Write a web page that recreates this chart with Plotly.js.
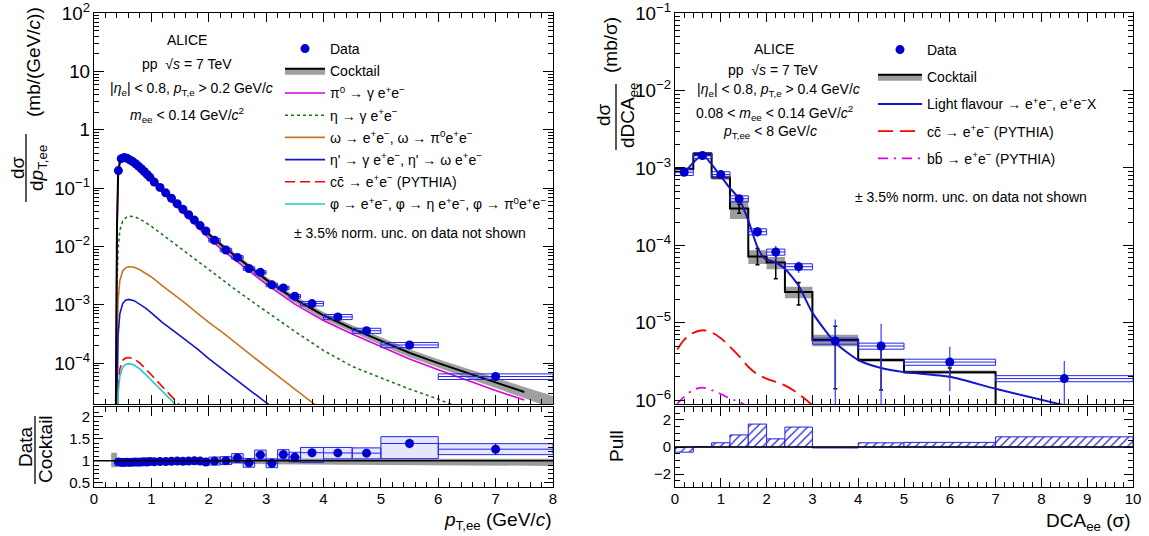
<!DOCTYPE html>
<html>
<head>
<meta charset="utf-8">
<title>ALICE pp 7 TeV dielectrons</title>
<script src="https://cdn.plot.ly/plotly-3.0.1.min.js"></script>
<style>
  html, body { margin: 0; padding: 0; background: #ffffff; }
  #chart { width: 1149px; height: 536px; }
</style>
</head>
<body>
<div id="chart"></div>
<script>
"use strict";

// ---------- left: pT,ee spectrum, m_ee < 0.14 GeV/c^2 ----------
var ptCenters = [0.425, 0.475, 0.525, 0.575, 0.625, 0.675, 0.725, 0.775, 0.825, 0.875, 0.925, 0.975,
    1.05, 1.15, 1.25, 1.35, 1.45, 1.55, 1.65, 1.75, 1.85, 1.95,
    2.1, 2.3, 2.5, 2.7, 2.9, 3.1, 3.3, 3.5, 3.8, 4.25, 4.75, 5.5, 7.0];
var ptHalfWidths = [0.025, 0.025, 0.025, 0.025, 0.025, 0.025, 0.025, 0.025, 0.025, 0.025, 0.025, 0.025,
    0.05, 0.05, 0.05, 0.05, 0.05, 0.05, 0.05, 0.05, 0.05, 0.05,
    0.1, 0.1, 0.1, 0.1, 0.1, 0.1, 0.1, 0.1, 0.2, 0.25, 0.25, 0.5, 1.0];
var ptDataYield = [0.20, 0.32, 0.335, 0.325, 0.305, 0.285, 0.262, 0.238, 0.215, 0.193, 0.172, 0.153,
    0.127, 0.103, 0.083, 0.067, 0.054, 0.0435, 0.035, 0.0283, 0.0228, 0.0184,
    0.0128, 0.0087, 0.0065, 0.0042, 0.0036, 0.0022, 0.00195, 0.0014, 0.00105, 0.00062, 0.00036, 0.000205, 0.000059];
var ptDataStatRel = [0.01, 0.01, 0.01, 0.01, 0.01, 0.01, 0.01, 0.01, 0.01, 0.01, 0.01, 0.01,
    0.012, 0.012, 0.012, 0.012, 0.012, 0.012, 0.012, 0.012, 0.012, 0.012,
    0.02, 0.02, 0.02, 0.02, 0.02, 0.02, 0.02, 0.02, 0.04, 0.05, 0.06, 0.08, 0.1];
var ptDataSystRel = [0.06, 0.06, 0.06, 0.06, 0.06, 0.06, 0.06, 0.06, 0.06, 0.06, 0.06, 0.06,
    0.06, 0.06, 0.06, 0.06, 0.06, 0.06, 0.06, 0.06, 0.06, 0.06,
    0.07, 0.07, 0.07, 0.07, 0.07, 0.07, 0.07, 0.07, 0.09, 0.1, 0.1, 0.1, 0.11];

// data / cocktail
var ptRatio = [0.97, 0.96, 0.96, 0.965, 0.96, 0.965, 0.97, 0.965, 0.97, 0.975, 0.97, 0.98,
    0.975, 0.98, 0.98, 0.985, 0.99, 0.985, 0.99, 0.995, 0.99, 0.97,
    0.99, 1.0, 1.06, 0.95, 1.13, 0.94, 1.14, 1.08, 1.18, 1.175, 1.17, 1.39, 1.26];
var ptRatioBoxDown = [0.04, 0.04, 0.04, 0.04, 0.04, 0.04, 0.04, 0.04, 0.04, 0.04, 0.04, 0.04,
    0.04, 0.04, 0.04, 0.04, 0.04, 0.04, 0.04, 0.04, 0.04, 0.04,
    0.09, 0.09, 0.1, 0.1, 0.1, 0.1, 0.11, 0.11, 0.22, 0.135, 0.13, 0.345, 0.124];
var ptRatioBoxUp = [0.04, 0.04, 0.04, 0.04, 0.04, 0.04, 0.04, 0.04, 0.04, 0.04, 0.04, 0.04,
    0.04, 0.04, 0.04, 0.04, 0.04, 0.04, 0.04, 0.04, 0.04, 0.04,
    0.09, 0.09, 0.1, 0.1, 0.11, 0.1, 0.11, 0.11, 0.12, 0.125, 0.12, 0.155, 0.126];
var ratioBandPt = [0.3, 0.4, 0.4, 1.0, 2.0, 3.0, 4.0, 5.0, 6.0, 7.0, 8.0];
var ratioBandLo = [0.85, 0.85, 0.92, 0.93, 0.93, 0.92, 0.91, 0.9, 0.89, 0.88, 0.88];
var ratioBandHi = [1.18, 1.18, 1.06, 1.05, 1.05, 1.05, 1.05, 1.04, 1.04, 1.04, 1.04];
var ratioRef = 1;

// cocktail and its sources, sampled in pT,ee
var cktPt = [0.38, 0.40, 0.42, 0.45, 0.50, 0.55, 0.60, 0.70, 0.80, 0.90, 1.00, 1.20, 1.40, 1.60, 1.80,
    2.00, 2.25, 2.50, 2.75, 3.00, 3.50, 4.00, 4.50, 5.00, 5.50, 6.00, 6.50, 7.00, 7.50, 8.00];
var cktYield = [1e-5, 0.02, 0.17, 0.30, 0.345, 0.345, 0.33, 0.285, 0.235, 0.19, 0.150, 0.096, 0.061, 0.039, 0.025,
    0.0162, 0.0100, 0.0064, 0.0041, 0.0027, 0.00125, 0.00066, 0.00039, 0.00024, 0.000150, 0.000100, 0.000068, 0.000047, 0.000032, 0.000022];
var cktUncRel = [0.1, 0.1, 0.1, 0.1, 0.1, 0.1, 0.1, 0.1, 0.1, 0.1, 0.1, 0.1, 0.1, 0.1, 0.1,
    0.1, 0.1, 0.11, 0.11, 0.12, 0.13, 0.14, 0.14, 0.15, 0.16, 0.17, 0.18, 0.2, 0.22, 0.24];
var pi0Yield = [1e-5, 0.018, 0.15, 0.265, 0.305, 0.305, 0.29, 0.25, 0.205, 0.166, 0.131, 0.083, 0.053, 0.0338, 0.0216,
    0.0139, 0.0085, 0.0054, 0.00345, 0.00226, 0.00103, 0.00054, 0.000315, 0.000192, 0.000118, 0.000077, 0.000051, 0.000034, 0.0000233];
var etaYield = [1e-5, 0.002, 0.009, 0.019, 0.027, 0.031, 0.033, 0.0325, 0.0295, 0.0258, 0.0222, 0.0158, 0.0112, 0.0079, 0.0056,
    0.0040, 0.0026, 0.00172, 0.00115, 0.00077, 0.00035, 0.000165, 0.000088, 0.000056, 0.000036, 0.000024, 0.000016];
var omegaYield = [1e-6, 0.0002, 0.0012, 0.0026, 0.0038, 0.0043, 0.0045, 0.0044, 0.0040, 0.0035, 0.0030, 0.0021, 0.0015, 0.00105, 0.00072,
    0.00050, 0.00033, 0.00021, 0.000133, 0.000086, 0.000036, 0.000015];
var etaPrimeYield = [1e-6, 0.00005, 0.0003, 0.0007, 0.00105, 0.0012, 0.00124, 0.00118, 0.00103, 0.00088, 0.00073, 0.00049, 0.00035, 0.00025, 0.000175,
    0.000120, 0.000078, 0.000050, 0.000032, 0.000021, 0.0000095];
var ccbarPtYield = [1e-6, 0.00001, 0.00004, 0.00008, 0.000112, 0.000122, 0.000125, 0.000118, 0.000100, 0.000080, 0.000063, 0.000039, 0.000024, 0.0000148];
var phiYield = [1e-6, 0.000005, 0.00003, 0.00006, 0.000085, 0.000095, 0.000098, 0.000093, 0.000079, 0.000064, 0.000051, 0.000032, 0.0000205, 0.000013];

// ---------- right: DCA_ee distribution ----------
var dcaEdges = [0, 0.4, 0.8, 1.2, 1.6, 2.0, 2.4, 3.0, 4.0, 5.0, 7.0, 10.0];
var dcaCenters = [0.2, 0.6, 1.0, 1.4, 1.8, 2.2, 2.7, 3.5, 4.5, 6.0, 8.5];
var dcaData = [8.8e-4, 1.45e-3, 8.2e-4, 4.0e-4, 1.5e-4, 8.2e-5, 5.3e-5, 5.8e-6, 5.0e-6, 3.1e-6, 1.9e-6];
var dcaDataStat = [3e-5, 5e-5, 3e-5, 2.5e-5, 2.2e-5, 1.7e-5, 9e-6, 5.2e-6, 4.7e-6, 1.8e-6, 1.3e-6];
var dcaDataSystRel = [0.09, 0.09, 0.09, 0.09, 0.09, 0.09, 0.09, 0.09, 0.09, 0.09, 0.09];
// last bin (7-10) of the cocktail is empty, it sits below the axis
var dcaCocktail = [9.7e-4, 1.5e-3, 7.5e-4, 3.0e-4, 7.2e-5, 6.0e-5, 2.5e-5, 6.0e-6, 3.3e-6, 2.3e-6, 1e-9];
var dcaCocktailSystRel = [0.05, 0.07, 0.06, 0.27, 0.2, 0.18, 0.17, 0.17, 0.05, 0.05, 0];
var dcaCocktailStatUp = [0, 0, 0, 4e-5, 1.9e-5, 2.5e-5, 8e-6, 3e-6, 1.9e-6, 3e-7, 0];
var dcaCocktailStatDown = [0, 0, 0, 4e-5, 1.6e-5, 2.3e-5, 8e-6, 4.6e-6, 1.95e-6, 3e-7, 0];
var lfDca = [0.2, 0.6, 1.0, 1.2, 1.4, 1.6, 1.8, 1.95, 2.2, 2.4, 2.7, 3.0, 3.5, 4.0, 4.5, 5.0, 6.0, 7.0, 8.6];
var lfYield = [8.6e-4, 1.45e-3, 7.8e-4, 5.5e-4, 4.0e-4, 2.1e-4, 9.5e-5, 6.8e-5, 6.0e-5, 5.0e-5, 3.0e-5, 1.35e-5,
    5.5e-6, 3.3e-6, 2.6e-6, 2.3e-6, 2.0e-6, 1.4e-6, 8.3e-7];
var ccDca = [0.05, 0.2, 0.4, 0.6, 0.8, 1.0, 1.2, 1.4, 1.6, 1.8, 2.0, 2.2, 2.4, 2.6, 2.8, 3.0, 3.2];
var ccDcaYield = [4.5e-6, 6.0e-6, 7.4e-6, 8.0e-6, 7.5e-6, 6.3e-6, 4.9e-6, 3.7e-6, 2.7e-6, 2.15e-6, 1.9e-6, 1.72e-6,
    1.55e-6, 1.32e-6, 1.08e-6, 8.6e-7, 6.8e-7];
var bbDca = [0.05, 0.2, 0.4, 0.6, 0.8, 1.0, 1.2, 1.4, 1.6, 1.8];
var bbDcaYield = [9.0e-7, 1.1e-6, 1.35e-6, 1.45e-6, 1.35e-6, 1.2e-6, 1.05e-6, 9.5e-7, 8.2e-7, 7.0e-7];
var pullValues = [-0.38, 0.02, 0.31, 0.89, 1.69, 0.6, 1.47, -0.07, 0.31, 0.34, 0.75];
var pullRef = 0;

// ---------- page geometry ----------
var FONT = "Liberation Sans, Arial, Helvetica, sans-serif";
var W = 1149, H = 536, ML = 94, MR = 16, MT = 13, MB = 49;
var PW = W - ML - MR, PH = H - MT - MB;
function px(x) { return (x - ML) / PW; }   // pixel column -> paper x
function py(y) { return (H - MB - y) / PH; } // pixel row -> paper y

var BLUE = "#0000cc", BOXBLUE = "#2424ee", GREY = "#a0a0a0";

// rectangles (separated by gaps) around each point, drawn through the axes
function boxes(xc, halfW, lo, hi) {
    var xs = [], ys = [];
    for (var i = 0; i < xc.length; i++) {
        var a = xc[i] - halfW[i], b = xc[i] + halfW[i];
        xs.push(a, b, b, a, a, null);
        ys.push(lo[i], lo[i], hi[i], hi[i], lo[i], null);
    }
    return {x: xs, y: ys};
}

var traces = [];

// --- left top ---
var cktLo = cktYield.map(function(v, i) { return v * (1 - cktUncRel[i]); });
var cktHi = cktYield.map(function(v, i) { return v * (1 + cktUncRel[i]); });
traces.push({x: cktPt, y: cktLo, xaxis: "x", yaxis: "y", mode: "lines", line: {width: 0, color: GREY},
    showlegend: false, hoverinfo: "skip"});
traces.push({x: cktPt, y: cktHi, xaxis: "x", yaxis: "y", mode: "lines", line: {width: 0, color: GREY},
    fill: "tonexty", fillcolor: GREY, showlegend: false, hoverinfo: "skip"});

function source(vals, name, color, dash, rank) {
    return {x: cktPt.slice(0, vals.length), y: vals, xaxis: "x", yaxis: "y", mode: "lines", name: name,
        line: {color: color, width: 1.6, dash: dash}, legend: "legend", legendgroup: "l" + rank,
        legendrank: rank, hoverinfo: "skip"};
}
traces.push(source(pi0Yield, "π<sup>0</sup> → γ e<sup>+</sup>e<sup>−</sup>", "#dd00dd", "solid", 3));
traces.push(source(etaYield, "η → γ e<sup>+</sup>e<sup>−</sup>", "#1a7a1a", "3px,3px", 4));
traces.push(source(omegaYield, "ω → e<sup>+</sup>e<sup>−</sup>, ω → π<sup>0</sup>e<sup>+</sup>e<sup>−</sup>", "#cc7320", "solid", 5));
traces.push(source(etaPrimeYield, "η' → γ e<sup>+</sup>e<sup>−</sup>, η' → ω e<sup>+</sup>e<sup>−</sup>", "#1414c8", "solid", 6));
traces.push(source(ccbarPtYield, "cc\u0304 → e<sup>+</sup>e<sup>−</sup> (PYTHIA)", "#ff0000", "10px,5px", 7));
traces.push(source(phiYield, "φ → e<sup>+</sup>e<sup>−</sup>, φ → η e<sup>+</sup>e<sup>−</sup>, φ → π<sup>0</sup>e<sup>+</sup>e<sup>−</sup>", "#22c8c8", "solid", 8));

traces.push({x: cktPt.slice(0, -1), y: cktYield.slice(0, -1), xaxis: "x", yaxis: "y", mode: "lines",
    line: {color: "#000", width: 2}, showlegend: false, hoverinfo: "skip"});
// legend entry only
traces.push({x: [null], y: [null], xaxis: "x", yaxis: "y", mode: "lines", name: "Cocktail",
    line: {color: "#000", width: 2}, fill: "toself", fillcolor: GREY,
    legend: "legend", legendgroup: "l2", legendrank: 2});

var ptBox = boxes(ptCenters, ptHalfWidths,
    ptDataYield.map(function(v, i) { return v * (1 - ptDataSystRel[i]); }),
    ptDataYield.map(function(v, i) { return v * (1 + ptDataSystRel[i]); }));
traces.push({x: ptBox.x, y: ptBox.y, xaxis: "x", yaxis: "y", mode: "lines", line: {color: BOXBLUE, width: 1},
    showlegend: false, hoverinfo: "skip"});
traces.push({x: ptCenters, y: ptDataYield, xaxis: "x", yaxis: "y", mode: "markers", name: "Data",
    marker: {color: BLUE, size: 9, symbol: "circle"},
    error_x: {type: "data", array: ptHalfWidths, width: 0, thickness: 1, color: BOXBLUE},
    error_y: {type: "data", array: ptDataYield.map(function(v, i) { return v * ptDataStatRel[i]; }),
        width: 0, thickness: 1, color: BLUE},
    legend: "legend", legendgroup: "l1", legendrank: 1, hoverinfo: "skip"});

// --- left bottom: ratio ---
traces.push({x: ratioBandPt, y: ratioBandLo, xaxis: "x2", yaxis: "y2", mode: "lines", line: {width: 0},
    showlegend: false, hoverinfo: "skip"});
traces.push({x: ratioBandPt, y: ratioBandHi, xaxis: "x2", yaxis: "y2", mode: "lines", line: {width: 0},
    fill: "tonexty", fillcolor: "#9a9a9a", showlegend: false, hoverinfo: "skip"});
var ratioBox = boxes(ptCenters, ptHalfWidths,
    ptRatio.map(function(v, i) { return v - ptRatioBoxDown[i]; }),
    ptRatio.map(function(v, i) { return v + ptRatioBoxUp[i]; }));
traces.push({x: ratioBox.x, y: ratioBox.y, xaxis: "x2", yaxis: "y2", mode: "lines",
    line: {color: BOXBLUE, width: 1}, fill: "toself", fillcolor: "rgba(90,90,255,0.15)",
    showlegend: false, hoverinfo: "skip"});
traces.push({x: ptCenters, y: ptRatio, xaxis: "x2", yaxis: "y2", mode: "markers",
    marker: {color: BLUE, size: 9},
    error_x: {type: "data", array: ptHalfWidths, width: 0, thickness: 1, color: BOXBLUE},
    error_y: {type: "data", array: ptRatio.map(function(v, i) { return v * ptDataStatRel[i]; }),
        width: 0, thickness: 1, color: BLUE},
    showlegend: false, hoverinfo: "skip"});

// --- right top: DCA ---
var nCk = dcaCocktailSystRel.filter(function(s) { return s > 0; }).length;
var ckLoEdge = dcaEdges.slice(0, nCk), ckHiEdge = dcaEdges.slice(1, nCk + 1);
var ckBox = boxes(
    ckLoEdge.map(function(a, i) { return (a + ckHiEdge[i]) / 2; }),
    ckLoEdge.map(function(a, i) { return (ckHiEdge[i] - a) / 2; }),
    dcaCocktail.slice(0, nCk).map(function(v, i) { return v * (1 - dcaCocktailSystRel[i]); }),
    dcaCocktail.slice(0, nCk).map(function(v, i) { return v * (1 + dcaCocktailSystRel[i]); }));
traces.push({x: ckBox.x, y: ckBox.y, xaxis: "x3", yaxis: "y3", mode: "lines", line: {width: 0},
    fill: "toself", fillcolor: "#9c9c9c", showlegend: false, hoverinfo: "skip"});

var stepX = [], stepY = [];
dcaCocktail.forEach(function(v, i) {
    stepX.push(dcaEdges[i], dcaEdges[i + 1]);
    stepY.push(v, v);
});
traces.push({x: stepX, y: stepY, xaxis: "x3", yaxis: "y3", mode: "lines", line: {color: "#000", width: 2},
    showlegend: false, hoverinfo: "skip"});
traces.push({x: dcaCenters, y: dcaCocktail, xaxis: "x3", yaxis: "y3", mode: "markers",
    marker: {size: 1, color: "rgba(0,0,0,0)"},
    error_y: {type: "data", symmetric: false, array: dcaCocktailStatUp, arrayminus: dcaCocktailStatDown,
        width: 2, thickness: 1.5, color: "#000"},
    showlegend: false, hoverinfo: "skip"});

traces.push({x: lfDca, y: lfYield, xaxis: "x3", yaxis: "y3", mode: "lines",
    name: "Light flavour → e<sup>+</sup>e<sup>−</sup>, e<sup>+</sup>e<sup>−</sup>X",
    line: {color: "#1414c8", width: 2, shape: "spline", smoothing: 0.6},
    legend: "legend2", legendgroup: "r3", legendrank: 3, hoverinfo: "skip"});
traces.push({x: ccDca, y: ccDcaYield, xaxis: "x3", yaxis: "y3", mode: "lines",
    name: "cc\u0304 → e<sup>+</sup>e<sup>−</sup> (PYTHIA)",
    line: {color: "#ff0000", width: 1.8, dash: "15px,7px", shape: "spline"},
    legend: "legend2", legendgroup: "r4", legendrank: 4, hoverinfo: "skip"});
traces.push({x: bbDca, y: bbDcaYield, xaxis: "x3", yaxis: "y3", mode: "lines",
    name: "bb\u0304 → e<sup>+</sup>e<sup>−</sup> (PYTHIA)",
    line: {color: "#e000e0", width: 1.8, dash: "10px,6px,2px,6px", shape: "spline"},
    legend: "legend2", legendgroup: "r5", legendrank: 5, hoverinfo: "skip"});

var dcaHalf = dcaCenters.map(function(c, i) { return (dcaEdges[i + 1] - dcaEdges[i]) / 2; });
var dcaBox = boxes(dcaCenters, dcaHalf,
    dcaData.map(function(v, i) { return v * (1 - dcaDataSystRel[i]); }),
    dcaData.map(function(v, i) { return v * (1 + dcaDataSystRel[i]); }));
traces.push({x: dcaBox.x, y: dcaBox.y, xaxis: "x3", yaxis: "y3", mode: "lines", line: {color: BOXBLUE, width: 1},
    showlegend: false, hoverinfo: "skip"});
traces.push({x: dcaCenters, y: dcaData, xaxis: "x3", yaxis: "y3", mode: "markers", name: "Data",
    marker: {color: BLUE, size: 9},
    error_x: {type: "data", array: dcaHalf, width: 0, thickness: 1, color: BOXBLUE},
    error_y: {type: "data", array: dcaDataStat, width: 0, thickness: 1.2, color: "#3a3aff"},
    legend: "legend2", legendgroup: "r1", legendrank: 1, hoverinfo: "skip"});
traces.push({x: [null], y: [null], xaxis: "x3", yaxis: "y3", mode: "lines", name: "Cocktail",
    line: {color: "#000", width: 2}, fill: "toself", fillcolor: "#9c9c9c",
    legend: "legend2", legendgroup: "r2", legendrank: 2});

// --- right bottom: pull ---
traces.push({type: "bar", x: dcaCenters, y: pullValues, width: dcaHalf.map(function(h) { return 2 * h; }),
    xaxis: "x4", yaxis: "y4",
    marker: {color: "#ffffff", line: {color: "#2020e0", width: 1},
        pattern: {shape: "/", fgcolor: "#2020e0", bgcolor: "#ffffff", size: 6, solidity: 0.2, fillmode: "replace"}},
    showlegend: false, hoverinfo: "skip"});

// ---------- axes ----------
function frame(extra, minorDtick) {
    var ax = {
        showline: true, linecolor: "#000", linewidth: 1, mirror: "allticks",
        ticks: "inside", ticklen: 9, tickwidth: 1, tickcolor: "#000",
        showgrid: false, zeroline: false, fixedrange: true, ticklabeloverflow: "allow",
        tickfont: {family: FONT, size: 15, color: "#000"},
        minor: {ticks: "inside", ticklen: 5, tickwidth: 1, tickcolor: "#000", showgrid: false, dtick: minorDtick}
    };
    Object.keys(extra).forEach(function(k) { ax[k] = extra[k]; });
    return ax;
}

var leftDom = [0, px(553)], rightDom = [px(675), 1];
var topDom = [py(404), 1], botDom = [0, py(407)];

var notes = [
    ["ALICE", 187, 40],
    ["pp  √<i>s</i> = 7 TeV", 187, 64],
    ["|<i>η</i><sub>e</sub>| &lt; 0.8, <i>p</i><sub>T,e</sub> &gt; 0.2 GeV/<i>c</i>", 191, 89],
    ["<i>m</i><sub>ee</sub> &lt; 0.14 GeV/<i>c</i><sup>2</sup>", 187, 115],
    ["± 3.5% norm. unc. on data not shown", 410, 233],
    ["ALICE", 774, 49],
    ["pp  √<i>s</i> = 7 TeV", 773, 70],
    ["|<i>η</i><sub>e</sub>| &lt; 0.8, <i>p</i><sub>T,e</sub> &gt; 0.4 GeV/<i>c</i>", 778, 90],
    ["0.08 &lt; <i>m</i><sub>ee</sub> &lt; 0.14 GeV/<i>c</i><sup>2</sup>", 774, 113],
    ["<i>p</i><sub>T,ee</sub> &lt; 8 GeV/<i>c</i>", 770, 132],
    ["± 3.5% norm. unc. on data not shown", 971, 197]
];
var annotations = notes.map(function(n) {
    return {text: n[0], x: px(n[1]), y: py(n[2]), xref: "paper", yref: "paper", showarrow: false,
        xanchor: "center", yanchor: "middle", font: {family: FONT, size: 14, color: "#000"}};
});

// axis titles (fractions are built from pieces)
var titles = [
    ["dσ", 17, 168, -90, "center"],
    ["d<i>p</i><sub>T,ee</sub>", 38, 168, -90, "center"],
    ["(mb/(GeV/<i>c</i>))", 34, 62, -90, "center"],
    ["Data", 25, 447, -90, "center"],
    ["Cocktail", 45, 449, -90, "center"],
    ["dσ", 603, 115, -90, "center"],
    ["dDCA<sub>ee</sub>", 629, 116, -90, "center"],
    ["(mb/σ)", 611, 45, -90, "center"],
    ["Pull", 616, 446, -90, "center"],
    ["<i>p</i><sub>T,ee</sub> (GeV/<i>c</i>)", 553, 521, 0, "right"],
    ["DCA<sub>ee</sub> (σ)", 1133, 522, 0, "right"]
];
titles.forEach(function(t) {
    annotations.push({text: t[0], x: px(t[1]), y: py(t[2]), xref: "paper", yref: "paper", showarrow: false,
        textangle: t[3], xanchor: t[4], yanchor: "middle", font: {family: FONT, size: 19, color: "#000"}});
});

var fractionBars = [[26, 134, 202], [35, 416, 484], [616, 84, 150]];
var shapes = fractionBars.map(function(b) {
    return {type: "line", xref: "paper", yref: "paper", x0: px(b[0]), x1: px(b[0]), y0: py(b[1]), y1: py(b[2]),
        line: {color: "#000", width: 1.3}};
});
shapes.push({type: "line", xref: "x2 domain", yref: "y2", x0: 0, x1: 1, y0: ratioRef, y1: ratioRef,
    line: {color: "#000", width: 1.5}, layer: "above"});
shapes.push({type: "line", xref: "x4 domain", yref: "y4", x0: 0, x1: 1, y0: pullRef, y1: pullRef,
    line: {color: "#000", width: 1.5}, layer: "above"});

var legendBase = {xanchor: "left", yanchor: "top", bgcolor: "rgba(0,0,0,0)", borderwidth: 0,
    font: {family: FONT, size: 14, color: "#000"}, traceorder: "grouped", itemclick: false, itemdoubleclick: false};
var legend1 = Object.assign({}, legendBase, {x: px(280), y: py(33), itemwidth: 40, tracegroupgap: 1.0});
var legend2 = Object.assign({}, legendBase, {x: px(873), y: py(34), itemwidth: 44, tracegroupgap: 6.0});

var layout = {
    width: W, height: H,
    margin: {l: ML, r: MR, t: MT, b: MB, pad: 0},
    paper_bgcolor: "#ffffff", plot_bgcolor: "#ffffff",
    font: {family: FONT, size: 15, color: "#000"},
    hovermode: false, barmode: "overlay",
    legend: legend1, legend2: legend2,
    xaxis: frame({domain: leftDom, range: [0, 8], anchor: "y", dtick: 1, tick0: 0, showticklabels: false}, 0.2),
    yaxis: frame({domain: topDom, type: "log", range: [-4.7, 2.002], anchor: "x", dtick: 1, exponentformat: "power", ticklen: 10}, "D1"),
    xaxis2: frame({domain: leftDom, range: [0, 8], anchor: "y2", dtick: 1, tick0: 0, ticklabelstandoff: -2}, 0.2),
    yaxis2: frame({domain: botDom, range: [0.4, 2.22], anchor: "x2", tickvals: [0.5, 1, 1.5, 2], ticktext: ["0.5", "1", "1.5", "2"]}, 0.1),
    xaxis3: frame({domain: rightDom, range: [0, 10], anchor: "y3", dtick: 1, tick0: 0, showticklabels: false}, 0.2),
    yaxis3: frame({domain: topDom, type: "log", range: [-6.05, -0.998], anchor: "x3", dtick: 1, exponentformat: "power", ticklen: 10}, "D1"),
    xaxis4: frame({domain: rightDom, range: [0, 10], anchor: "y4", dtick: 1, tick0: 0, ticklabelstandoff: -2}, 0.2),
    yaxis4: frame({domain: botDom, range: [-2.95, 2.95], anchor: "x4", tickvals: [-2, 0, 2]}, 0.5),
    annotations: annotations,
    shapes: shapes
};

Plotly.newPlot("chart", traces, layout, {staticPlot: true, displayModeBar: false});
</script>
</body>
</html>
